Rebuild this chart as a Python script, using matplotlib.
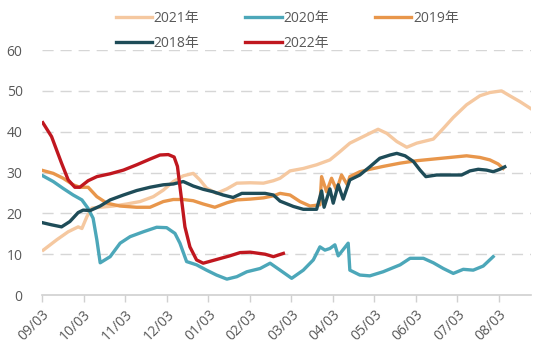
import matplotlib
matplotlib.use("Agg")
import matplotlib.pyplot as plt

plt.rcParams['font.family'] = ['Open Sans', 'Noto Sans CJK SC', 'DejaVu Sans']

# x: months counted from 09/03 (0 = 09/03, 1 = 10/03, ...)
month_labels = ['09/03', '10/03', '11/03', '12/03', '01/03', '02/03',
                '03/03', '04/03', '05/03', '06/03', '07/03', '08/03']

x_2021 = [0.03, 0.35, 0.63, 0.87, 0.96, 1.08, 1.20, 1.40, 1.72, 2.04, 2.36, 2.68, 2.92,
          3.16, 3.40, 3.64, 3.80, 3.96, 4.20, 4.45, 4.69, 5.01, 5.33, 5.57, 5.73, 5.97,
          6.29, 6.61, 6.93, 7.17, 7.41, 7.65, 7.89, 8.09, 8.30, 8.54, 8.78, 9.02, 9.42,
          9.66, 9.90, 10.22, 10.54, 10.78, 11.06, 11.26, 11.50, 11.79]
y_2021 = [11.0, 13.5, 15.5, 16.7, 16.3, 19.2, 21.3, 21.5, 21.8, 22.3, 22.9, 24.1, 25.7,
          27.8, 29.2, 29.8, 28.2, 26.2, 24.9, 26.0, 27.4, 27.5, 27.4, 28.0, 28.6, 30.4,
          31.0, 31.9, 33.1, 35.1, 37.2, 38.4, 39.6, 40.6, 39.6, 37.6, 36.2, 37.2, 38.2,
          40.8, 43.5, 46.6, 48.8, 49.6, 50.0, 48.8, 47.4, 45.5]

x_2020 = [0.02, 0.27, 0.51, 0.75, 0.96, 1.11, 1.23, 1.32, 1.40, 1.64, 1.88, 2.12, 2.44,
          2.76, 3.00, 3.20, 3.32, 3.48, 3.72, 3.96, 4.20, 4.45, 4.69, 4.93, 5.25, 5.49,
          5.73, 6.01, 6.29, 6.53, 6.69, 6.81, 6.93, 7.05, 7.13, 7.27, 7.37, 7.41, 7.65,
          7.89, 8.21, 8.62, 8.86, 9.18, 9.42, 9.66, 9.90, 10.14, 10.38, 10.62, 10.86]
y_2020 = [29.2, 27.8, 26.1, 24.5, 23.3, 21.2, 18.8, 13.5, 7.9, 9.4, 12.7, 14.3, 15.5,
          16.6, 16.5, 15.1, 12.7, 8.2, 7.4, 6.1, 4.9, 3.9, 4.5, 5.7, 6.5, 7.8,
          6.1, 4.1, 6.1, 8.6, 11.8, 11.0, 11.4, 12.3, 9.6, 11.4, 12.7, 6.1, 4.9,
          4.7, 5.7, 7.4, 9.0, 9.0, 7.9, 6.5, 5.3, 6.3, 6.1, 7.1, 9.4]

x_2019 = [0.02, 0.27, 0.51, 0.75, 0.91, 1.11, 1.32, 1.56, 1.88, 2.28, 2.60, 2.92, 3.16,
          3.40, 3.64, 3.88, 4.16, 4.45, 4.69, 5.01, 5.33, 5.57, 5.73, 5.97, 6.21, 6.45,
          6.69, 6.73, 6.85, 6.97, 7.09, 7.21, 7.35, 7.41, 7.65, 7.89, 8.21, 8.62, 9.02,
          9.42, 9.82, 10.22, 10.54, 10.78, 10.98, 11.10]
y_2019 = [30.5, 29.8, 28.6, 27.0, 26.4, 26.4, 24.1, 22.5, 21.8, 21.5, 21.5, 22.9, 23.4,
          23.4, 23.1, 22.3, 21.5, 22.6, 23.3, 23.5, 23.8, 24.3, 24.9, 24.5, 22.9, 21.8,
          22.1, 29.0, 25.3, 28.6, 25.7, 29.4, 27.0, 29.0, 30.2, 30.8, 31.5, 32.3, 32.9,
          33.3, 33.7, 34.1, 33.7, 33.1, 32.1, 31.0]

x_2018 = [0.02, 0.23, 0.47, 0.67, 0.87, 0.99, 1.16, 1.40, 1.64, 1.96, 2.28, 2.60, 2.92,
          3.16, 3.40, 3.64, 3.88, 4.12, 4.36, 4.60, 4.81, 5.09, 5.37, 5.57, 5.73, 6.05,
          6.29, 6.61, 6.73, 6.79, 6.93, 7.01, 7.13, 7.25, 7.41, 7.65, 7.89, 8.13, 8.38,
          8.54, 8.74, 8.94, 9.10, 9.24, 9.50, 9.82, 10.10, 10.30, 10.50, 10.70, 10.86,
          11.02, 11.14]
y_2018 = [17.7, 17.2, 16.7, 18.0, 20.2, 20.8, 20.7, 21.8, 23.3, 24.5, 25.6, 26.4, 27.0,
          27.2, 27.8, 26.7, 25.9, 25.3, 24.5, 23.9, 24.9, 24.9, 24.9, 24.5, 23.0, 21.7,
          21.0, 21.0, 25.5, 21.5, 26.0, 22.5, 27.0, 23.5, 28.2, 29.4, 31.4, 33.5, 34.3,
          34.7, 34.1, 32.7, 30.6, 29.0, 29.4, 29.4, 29.4, 30.4, 30.8, 30.6, 30.2,
          30.8, 31.4]

x_2022 = [0.02, 0.23, 0.47, 0.63, 0.79, 0.91, 1.11, 1.32, 1.64, 1.96, 2.28, 2.60, 2.84,
          3.04, 3.18, 3.26, 3.36, 3.44, 3.56, 3.72, 3.88, 4.20, 4.52, 4.77, 5.01, 5.37,
          5.57, 5.81]
y_2022 = [42.2, 38.8, 32.3, 28.2, 26.4, 26.4, 28.0, 29.0, 29.7, 30.6, 31.9, 33.3, 34.3,
          34.4, 33.8, 31.5, 23.3, 16.7, 11.8, 8.6, 7.8, 8.7, 9.6, 10.4, 10.5, 10.0,
          9.4, 10.2]

fig = plt.figure(figsize=(5.5, 3.5), dpi=100)
ax = fig.add_axes([0.0764, 0.157, 0.889, 0.70])

lw = 2.4
l21, = ax.plot(x_2021, y_2021, color='#F5C8A0', lw=lw, label='2021年')
l20, = ax.plot(x_2020, y_2020, color='#4CA7B9', lw=lw, label='2020年')
l19, = ax.plot(x_2019, y_2019, color='#E8964B', lw=lw, label='2019年')
l18, = ax.plot(x_2018, y_2018, color='#1E4C58', lw=lw, label='2018年')
l22, = ax.plot(x_2022, y_2022, color='#C0171F', lw=lw, label='2022年')

ax.set_xlim(0, 11.77)
ax.set_ylim(0, 60)
ax.set_yticks(range(0, 61, 10))
ax.set_xticks(range(len(month_labels)))
ax.set_xticklabels(month_labels, rotation=45, ha='right', rotation_mode='anchor')

for yv in range(10, 61, 10):
    ax.axhline(yv, color='#D6D6D6', lw=1, ls=(0, (8, 5)), zorder=0)

for s in ['top', 'right', 'left']:
    ax.spines[s].set_visible(False)
ax.spines['bottom'].set_color('#D0D0D0')
ax.spines['bottom'].set_linewidth(1.2)

ax.tick_params(axis='y', length=0, pad=14, labelsize=10, labelcolor='#595959')
ax.tick_params(axis='x', length=5, width=1, color='#D0D0D0', pad=4,
               labelsize=10, labelcolor='#595959')

handles = [l21, l18, l20, l22, l19]
fig.legend(handles, [h.get_label() for h in handles], ncol=3, frameon=False,
           loc='upper left', bbox_to_anchor=(0.19, 1.0), fontsize=10,
           handlelength=2.6, handletextpad=0.15, columnspacing=3.3,
           labelspacing=0.7, borderpad=0.3, labelcolor='#595959')

fig.savefig('out.png', dpi=100)
